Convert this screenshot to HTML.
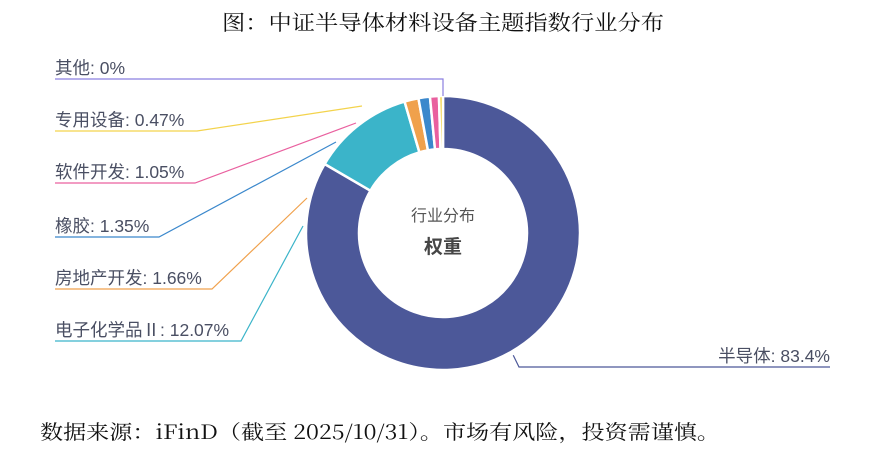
<!DOCTYPE html>
<html><head><meta charset="utf-8"><style>
html,body{margin:0;padding:0;background:#fff;width:883px;height:471px;overflow:hidden}
svg{display:block}
.lbl{font-family:"Liberation Sans","Noto Sans CJK SC",sans-serif;font-size:17.5px;fill:#4a4f63}
</style></head><body>
<svg id="chart" width="883" height="471">
<text x="222" y="30" textLength="442" lengthAdjust="spacingAndGlyphs" font-family="'Noto Serif CJK SC',serif" font-size="21" fill="#111">图：中证半导体材料设备主题指数行业分布</text>
<g id="slices"></g>
<g id="labels"></g>
<text x="443" y="221" text-anchor="middle" font-family="'Liberation Sans','Noto Sans CJK SC',sans-serif" font-size="16" fill="#555">行业分布</text>
<text x="443" y="253" text-anchor="middle" font-family="'Liberation Sans','Noto Sans CJK SC',sans-serif" font-size="19" font-weight="bold" fill="#464646">权重</text>
<text x="40" y="439" textLength="680" lengthAdjust="spacingAndGlyphs" font-family="'Noto Serif CJK SC',serif" font-size="20" fill="#111">数据来源：iFinD（截至 2025/10/31）。市场有风险，投资需谨慎。</text>
</svg>
<script>
const categories=["半导体","电子化学品Ⅱ","房地产开发","橡胶","软件开发","专用设备","其他"];
const values=[83.4,12.07,1.66,1.35,1.05,0.47,0];
const valueLabels=["83.4%","12.07%","1.66%","1.35%","1.05%","0.47%","0%"];
const colors=["#4c5899","#3bb4c9","#f0a14c","#3b88cc","#e9609f","#f3d34c","#8b7fe0"];
const cx=443,cy=233,R=137,r=84;
const NS="http://www.w3.org/2000/svg";
const total=values.reduce((a,b)=>a+b,0);
function pt(a,rad){return [cx+rad*Math.sin(a),cy-rad*Math.cos(a)];}
const sg=document.getElementById('slices'),lg=document.getElementById('labels');
let a0=0;const mids=[];
values.forEach((v,i)=>{
  const a1=a0+v/total*2*Math.PI;mids.push((a0+a1)/2);
  if(v>0){
    const large=(a1-a0)>Math.PI?1:0;
    const p1=pt(a0,R),p2=pt(a1,R),p3=pt(a1,r),p4=pt(a0,r);
    const p=document.createElementNS(NS,'path');
    p.setAttribute('d',`M${p1}A${R},${R} 0 ${large} 1 ${p2}L${p3}A${r},${r} 0 ${large} 0 ${p4}Z`);
    p.setAttribute('fill',colors[i]);p.setAttribute('stroke','#fff');p.setAttribute('stroke-width','2.5');
    
    
    sg.appendChild(p);
  }
  a0=a1;
});
// label layout (pixel positions of left-side labels)
const leftY=[null,341,289,237,183,131,79];
const leftElbowX=[null,241,212,159,195,197,441];
const leftStart=[null,[303,226],[307,198],[336,142],[356,123],[362,106],null];
function addLine(pts,color,name){
  const l=document.createElementNS(NS,'polyline');
  l.setAttribute('points',pts.map(p=>p.join(',')).join(' '));
  l.setAttribute('fill','none');l.setAttribute('stroke',color);l.setAttribute('stroke-width','1.2');
  
  
  lg.appendChild(l);
}
function addText(x,y,anchor,txt,name){
  const t=document.createElementNS(NS,'text');
  t.setAttribute('x',x);t.setAttribute('y',y);t.setAttribute('text-anchor',anchor);t.setAttribute('class','lbl');
  t.textContent=txt;
  
  
  lg.appendChild(t);
}
categories.forEach((c,i)=>{
  const txt=c+': '+valueLabels[i];
  if(i===0){
    const s=pt(mids[0],R+4);
    addLine([s,[519,367],[830,367]],colors[0],'leader-line-0');
    addText(830,362,'end',txt,'label-0');
  }else if(i===6){
    const s=pt(mids[6],R-1);
    addLine([[s[0],96],[s[0],79],[55,79]],colors[6],'leader-line-6');
    addText(55,74,'start',txt,'label-6');
  }else{
    addLine([leftStart[i],[leftElbowX[i],leftY[i]],[55,leftY[i]]],colors[i],'leader-line-'+i);
    addText(55,leftY[i]-5,'start',txt,'label-'+i);
  }
});
</script>
</body></html>
